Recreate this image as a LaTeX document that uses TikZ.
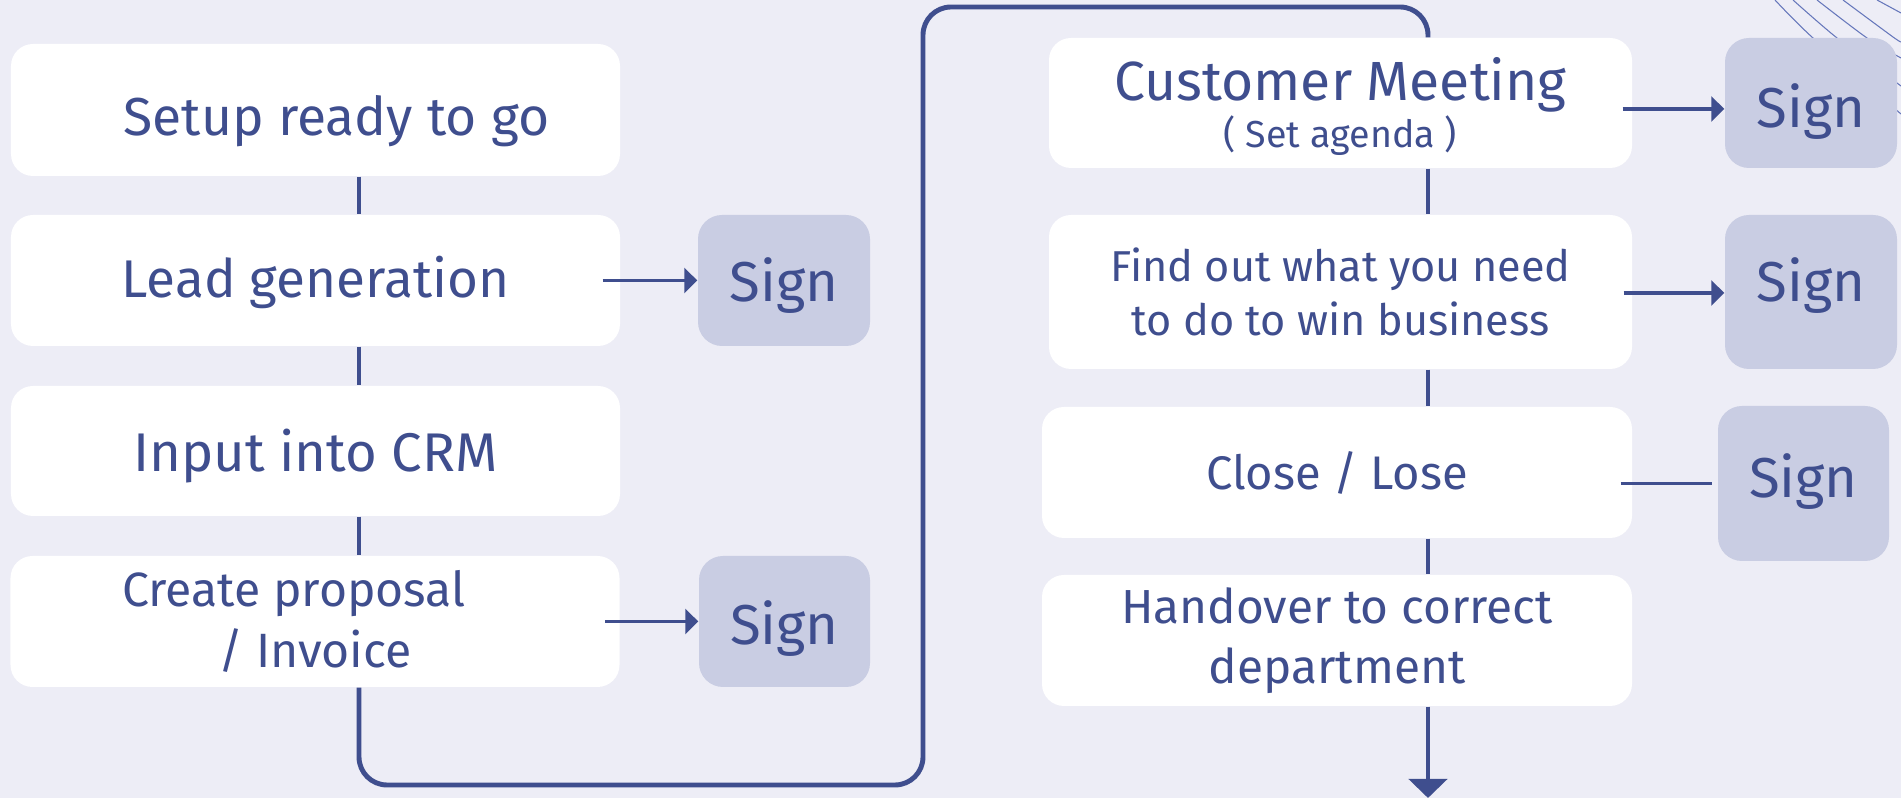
\documentclass[tikz,border=0pt]{standalone}
\usepackage{fontspec}
\setmainfont{Fira Sans}
\usepackage{tikz}
\usetikzlibrary{arrows.meta}

\definecolor{pagebg}{HTML}{EDEDF6}
\definecolor{ink}{HTML}{3F4E8E}
\definecolor{signfill}{HTML}{C9CDE3}
\definecolor{swirl}{HTML}{6677BB}

\begin{document}
\begin{tikzpicture}[
    stepbox/.style={fill=white, rounded corners=0.22cm, inner sep=0pt, align=center, text=ink,
      font=\fontsize{15.7pt}{19pt}\selectfont},
    signbox/.style={fill=signfill, rounded corners=0.24cm, inner sep=0pt, text=ink, text height=0.6cm,
      font=\fontsize{16pt}{20pt}\selectfont},
    flow/.style={draw=ink, line width=1.3pt},
    tosign/.style={draw=ink, line width=0.95pt, -{Triangle[length=0.13cm,width=0.25cm]}}
  ]
  \useasboundingbox (0,0) rectangle (19.01,-7.98);
  \fill[pagebg] (0,0) rectangle (19.01,-7.98);

  % decorative lines, top right
  \draw[swirl, line width=0.3pt] plot[smooth] coordinates {(17.75,0) (18.13,-0.38) (19.01,-1.14)};
  \draw[swirl, line width=0.3pt] plot[smooth] coordinates {(17.93,0) (18.37,-0.38) (19.01,-0.86)};
  \draw[swirl, line width=0.3pt] plot[smooth] coordinates {(18.17,0) (18.67,-0.38) (19.01,-0.58)};
  \draw[swirl, line width=0.3pt] plot[smooth] coordinates {(18.43,0) (18.93,-0.37) (19.01,-0.42)};
  \draw[swirl, line width=0.3pt] plot[smooth] coordinates {(18.77,0) (19.01,-0.13)};

  % left column
  \node[stepbox, minimum width=6.09cm, minimum height=1.32cm, text height=0.6cm, text depth=0.08cm,
    font=\fontsize{15.2pt}{19pt}\selectfont] (setup) at (3.155,-1.10) {\hspace*{0.42cm}Setup ready to go};
  \node[stepbox, minimum width=6.09cm, minimum height=1.31cm, text height=0.45cm, text depth=0.1cm,
    font=\fontsize{15.1pt}{19pt}\selectfont] (lead) at (3.155,-2.805) {Lead generation};
  \node[stepbox, minimum width=6.09cm, minimum height=1.30cm, text height=0.5cm, text depth=0.08cm,
    font=\fontsize{15.5pt}{19pt}\selectfont] (crm) at (3.155,-4.51) {Input into CRM};
  \node[stepbox, minimum width=6.09cm, minimum height=1.31cm,
    font=\fontsize{13.7pt}{17.4pt}\selectfont] (proposal) at (3.15,-6.215) {Create proposal\hspace*{0.42cm}\\/ Invoice};

  \node[signbox, minimum width=1.72cm, minimum height=1.31cm, text depth=0.17cm] (leadsign) at (7.84,-2.805) {Sign};
  \node[signbox, minimum width=1.71cm, minimum height=1.31cm, text depth=0.14cm] (propsign) at (7.845,-6.215) {Sign};

  % right column
  \node[stepbox, minimum width=5.83cm, minimum height=1.30cm] (meeting) at (13.405,-1.03)
    {\rule{0pt}{14pt}Customer Meeting\\[-5.6pt]{\fontsize{10.7pt}{12pt}\selectfont ( Set agenda )}};
  \node[stepbox, minimum width=5.83cm, minimum height=1.54cm, font=\fontsize{12.3pt}{15.2pt}\selectfont] (findout) at (13.405,-2.92) {Find out what you need\\to do to win business};
  \node[stepbox, minimum width=5.90cm, minimum height=1.31cm, font=\fontsize{13.4pt}{17pt}\selectfont] (close) at (13.37,-4.725) {Close / Lose};
  \node[stepbox, minimum width=5.90cm, minimum height=1.31cm, font=\fontsize{13.6pt}{17pt}\selectfont] (handover) at (13.37,-6.405) {Handover to correct\\department};

  \node[signbox, minimum width=1.72cm, minimum height=1.30cm, text depth=0.11cm] (meetsign) at (18.11,-1.03) {Sign};
  \node[signbox, minimum width=1.72cm, minimum height=1.54cm, text depth=0.41cm] (findsign) at (18.11,-2.92) {Sign};
  \node[signbox, minimum width=1.71cm, minimum height=1.55cm, text depth=0.31cm] (closesign) at (18.035,-4.835) {Sign};

  % connectors
  \coordinate (lx) at (3.59,0);
  \coordinate (rx) at (14.28,0);
  \coordinate (loopturn) at (9.23,-7.85);
  \coordinate (looptop) at (14.28,-0.07);
  \coordinate (exit) at (14.28,-7.98);

  \draw[flow] (setup.south -| lx) -- (lead.north -| lx);
  \draw[flow] (lead.south -| lx) -- (crm.north -| lx);
  \draw[flow] (crm.south -| lx) -- (proposal.north -| lx);
  \draw[flow, line width=1.4pt, rounded corners=0.28cm] (proposal.south -| lx) |- (loopturn) |- (looptop) -- (meeting.north -| rx);
  \draw[flow] (meeting.south -| rx) -- (findout.north -| rx);
  \draw[flow] (findout.south -| rx) -- (close.north -| rx);
  \draw[flow] (close.south -| rx) -- (handover.north -| rx);
  \draw[flow, -{Triangle[length=0.19cm,width=0.38cm]}] (handover.south -| rx) -- (exit);

  \draw[tosign] ([xshift=-0.18cm]lead.east) -- (leadsign.west);
  \draw[tosign] ([xshift=-0.15cm]proposal.east) -- (propsign.west);
  \draw[tosign] ([xshift=-0.10cm,yshift=-0.06cm]meeting.east) -- ([yshift=-0.06cm]meetsign.west);
  \draw[tosign] ([xshift=-0.09cm,yshift=-0.01cm]findout.east) -- ([yshift=-0.01cm]findsign.west);
  \draw[draw=ink, line width=0.95pt, shorten >=0.05cm] ([xshift=-0.12cm]close.east |- closesign.west) -- (closesign.west);
\end{tikzpicture}
\end{document}
